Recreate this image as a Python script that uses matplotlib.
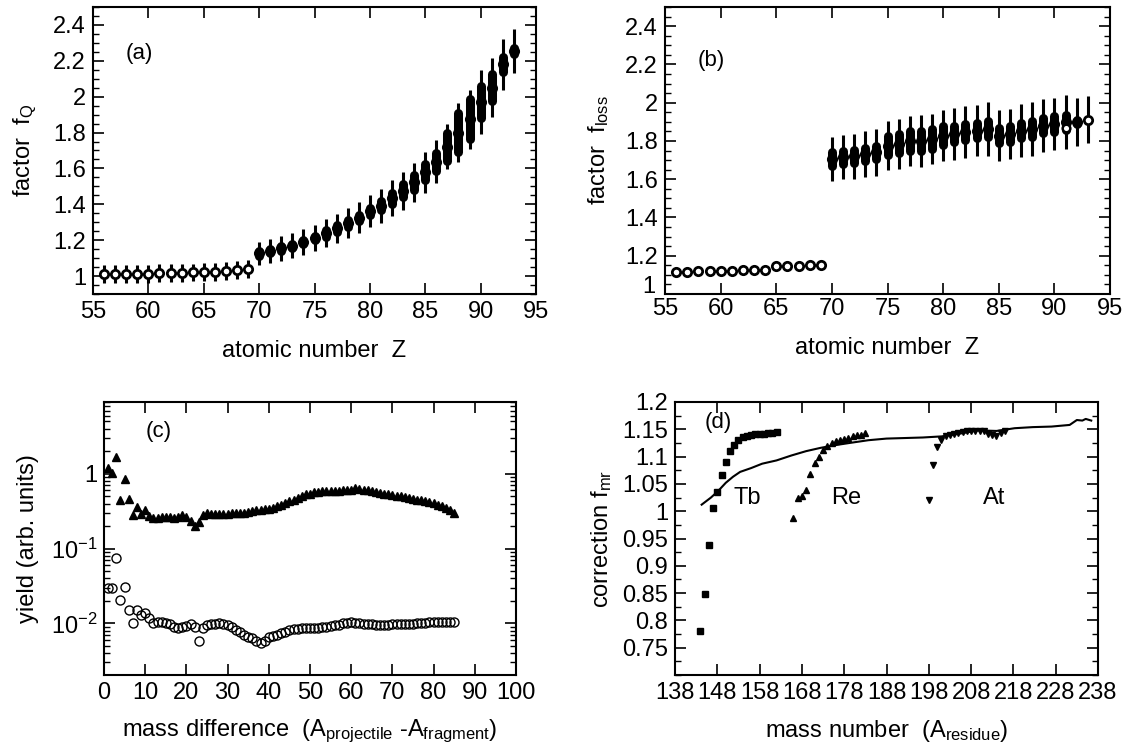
import numpy as np
import matplotlib
matplotlib.use("Agg")
import matplotlib.pyplot as plt
import matplotlib.transforms as mtransforms
from matplotlib.ticker import MultipleLocator, FixedLocator, FuncFormatter, LogLocator, NullFormatter

plt.rcParams['font.family'] = ['Liberation Sans', 'DejaVu Sans']
plt.rcParams['mathtext.fontset'] = 'custom'
plt.rcParams['mathtext.rm'] = 'Liberation Sans'
plt.rcParams['mathtext.it'] = 'Liberation Sans:italic'

# ---- panel (a): factor f_Q vs Z
z_a = np.arange(56, 94)
fq = [1.009, 1.010, 1.011, 1.012, 1.014, 1.015, 1.016, 1.018, 1.020, 1.022, 1.025, 1.028, 1.032, 1.037,
      1.126, 1.138, 1.154, 1.169, 1.190, 1.212, 1.238, 1.266, 1.294, 1.325, 1.361, 1.392, 1.433, 1.476,
      1.522, 1.578, 1.638, 1.72, 1.80, 1.875, 1.97, 2.05, 2.18, 2.255]
fq_spread = [0.005] * 14 + [0.012] * 6 + [0.018] * 5 + [0.025, 0.03, 0.035, 0.04, 0.045, 0.05,
                                                           0.08, 0.11, 0.11, 0.09, 0.075, 0.04, 0.015]
fq_err = [0.05] * 14 + [0.065, 0.066, 0.068, 0.07, 0.072, 0.075, 0.078, 0.08, 0.083, 0.086, 0.09,
                        0.095, 0.1, 0.105, 0.11, 0.115, 0.12, 0.125, 0.165, 0.165, 0.18, 0.165, 0.14, 0.125]

# ---- panel (b): factor f_loss vs Z
z_b = np.arange(56, 94)
floss = [1.115, 1.117, 1.118, 1.119, 1.120, 1.122, 1.123, 1.125, 1.126, 1.146, 1.147, 1.148, 1.150, 1.151,
         1.706, 1.715, 1.72, 1.73, 1.74, 1.776, 1.785, 1.80, 1.80, 1.81, 1.828, 1.837, 1.846, 1.854,
         1.863, 1.828, 1.837, 1.854, 1.863, 1.88, 1.889, 1.898, 1.90, 1.912]
floss_spread = [0.0] * 14 + [0.035] * 5 + [0.05] * 6 + [0.04] * 11 + [0.01, 0.0]
floss_err = [0.0] * 14 + [0.113, 0.115, 0.117, 0.12, 0.122, 0.13, 0.131, 0.131, 0.134, 0.131, 0.135,
                          0.135, 0.137, 0.135, 0.14, 0.133, 0.13, 0.14, 0.14, 0.14, 0.138, 0.14, 0.127, 0.125]
z_b_extra = [91]
floss_extra = [1.865]

# ---- panel (c): yields vs mass difference
dA = np.arange(1, 86)
yield_tri = [1.19, 1.02, 1.67, 0.449, 0.85, 0.458, 0.282, 0.358, 0.29, 0.323,
             0.274, 0.255, 0.26, 0.268, 0.268, 0.263, 0.26, 0.268, 0.277, 0.268,
             0.23, 0.20, 0.223, 0.282, 0.297, 0.291, 0.291, 0.291, 0.288, 0.291,
             0.297, 0.297, 0.303, 0.303, 0.310, 0.313, 0.323, 0.330, 0.336, 0.336,
             0.351, 0.365, 0.385, 0.405, 0.426, 0.44, 0.472, 0.508, 0.529, 0.54,
             0.562, 0.574, 0.586, 0.592, 0.592, 0.592, 0.592, 0.61, 0.61, 0.61,
             0.636, 0.623, 0.61, 0.598, 0.58, 0.568, 0.551, 0.54, 0.529, 0.518,
             0.508, 0.497, 0.482, 0.472, 0.458, 0.449, 0.44, 0.426, 0.418, 0.405,
             0.385, 0.365, 0.347, 0.323, 0.297]
yield_circ = [0.0294, 0.0294, 0.0743, 0.0205, 0.031, 0.0151, 0.0100, 0.0151, 0.0129, 0.0139,
              0.0117, 0.0102, 0.0105, 0.0103, 0.0100, 0.0098, 0.0090, 0.0088, 0.0090, 0.0092,
              0.0098, 0.0090, 0.00586, 0.0086, 0.0095, 0.0098, 0.0098, 0.0100, 0.0098, 0.0095,
              0.00903, 0.00814, 0.00773, 0.00698, 0.00663, 0.00630, 0.00586, 0.00551, 0.00586, 0.00663,
              0.00677, 0.00698, 0.00735, 0.00773, 0.00814, 0.00831, 0.00831, 0.00858, 0.00858, 0.00858,
              0.00858, 0.00875, 0.00884, 0.00903, 0.00921, 0.0094, 0.0096, 0.0100, 0.0102, 0.0103,
              0.0102, 0.0100, 0.0098, 0.0097, 0.0097, 0.0096, 0.0095, 0.0096, 0.0096, 0.0097,
              0.0097, 0.0097, 0.0097, 0.0098, 0.0098, 0.0100, 0.0100, 0.0102, 0.0103, 0.0105,
              0.0105, 0.0104, 0.0104, 0.0104, 0.0104]

# ---- panel (d): correction f_mr vs mass number
A_tb = np.arange(144, 163)
f_tb = [0.781, 0.849, 0.939, 1.006, 1.036, 1.067, 1.091, 1.110, 1.122, 1.131,
        1.136, 1.138, 1.140, 1.141, 1.142, 1.142, 1.143, 1.144, 1.145]
A_re = np.arange(166, 184)
f_re = [0.987, 1.025, 1.028, 1.039, 1.069, 1.089, 1.100, 1.113, 1.120,
        1.125, 1.128, 1.131, 1.133, 1.134, 1.137, 1.139, 1.140, 1.143]
A_at = np.arange(198, 217)
f_at = [1.020, 1.084, 1.118, 1.131, 1.137, 1.140, 1.142, 1.144, 1.145, 1.146,
        1.147, 1.147, 1.146, 1.146, 1.142, 1.140, 1.138, 1.143, 1.146]
A_line = [144.3, 146.5, 148.2, 150, 151.7, 153.4, 156, 158.6, 162, 165.5, 169, 172.4, 175.9,
          179.3, 183.7, 188, 192.3, 196.6, 201, 205.3, 209.6, 214, 218.3, 222.6, 227, 231.3,
          233, 234.3, 235.1, 236.4]
f_line = [1.012, 1.025, 1.037, 1.052, 1.063, 1.072, 1.079, 1.087, 1.093, 1.102, 1.11, 1.116, 1.121,
          1.125, 1.13, 1.133, 1.134, 1.135, 1.137, 1.142, 1.148, 1.147, 1.152, 1.154, 1.155, 1.158,
          1.167, 1.166, 1.169, 1.166]

W, H = 1127, 751
fig = plt.figure(figsize=(W / 100, H / 100), dpi=100)


def box(l, r, t, b):
    return [l / W, 1 - b / H, (r - l) / W, (b - t) / H]


ax_a = fig.add_axes(box(93, 536, 7, 294))
ax_b = fig.add_axes(box(665, 1110, 7, 294))
ax_c = fig.add_axes(box(104, 516, 402, 675))
ax_d = fig.add_axes(box(675, 1098, 402, 675))

FS = 17
gfmt = FuncFormatter(lambda v, p: '%g' % round(v, 3))


def style(ax):
    for s in ax.spines.values():
        s.set_linewidth(1.5)
    ax.tick_params(which='both', direction='in', top=True, right=True, labelsize=FS, pad=5)
    ax.tick_params(which='major', length=8, width=1.2)
    ax.tick_params(which='minor', length=4, width=1.0)


def draw_factor(ax, z, c, spread, err, open_mask):
    z = np.asarray(z)
    c = np.asarray(c)
    spread = np.asarray(spread)
    err = np.asarray(err)
    has_err = err > 0
    ax.vlines(z[has_err], (c - err)[has_err], (c + err)[has_err], color='k', lw=2.2, zorder=2)
    fill = ~open_mask
    lc = ax.vlines(z[fill], (c - spread)[fill], (c + spread)[fill], color='k', lw=6.5, zorder=3)
    lc.set_capstyle('round')
    ax.plot(z[fill], c[fill], 'o', ms=7, color='k', zorder=4)
    ax.plot(z[open_mask], c[open_mask], 'o', ms=6, mfc='white', mec='k', mew=2.0, ls='none', zorder=5)


# (a)
draw_factor(ax_a, z_a, fq, fq_spread, fq_err, z_a < 70)
ax_a.set_xlim(55, 95)
ax_a.set_ylim(0.9, 2.5)
ax_a.xaxis.set_major_locator(MultipleLocator(5))
ax_a.yaxis.set_major_locator(FixedLocator([1, 1.2, 1.4, 1.6, 1.8, 2, 2.2, 2.4]))
ax_a.yaxis.set_minor_locator(MultipleLocator(0.05))
ax_a.yaxis.set_major_formatter(gfmt)
ax_a.set_xlabel('atomic number  Z', fontsize=FS, labelpad=12)
ax_a.set_ylabel(r'factor  f$_\mathrm{Q}$', fontsize=FS, labelpad=10)
ax_a.text(59.2, 2.24, '(a)', fontsize=FS - 1, ha='center', va='center')
style(ax_a)

# (b)
zb = np.asarray(z_b)
draw_factor(ax_b, z_b, floss, floss_spread, floss_err, (zb < 70) | (zb == 93))
ax_b.plot(z_b_extra, floss_extra, 'o', ms=5.5, mfc='white', mec='k', mew=1.8, zorder=6)
ax_b.set_xlim(55, 95)
ax_b.set_ylim(1.0, 2.5)
ax_b.xaxis.set_major_locator(MultipleLocator(5))
ax_b.yaxis.set_major_locator(FixedLocator([1, 1.2, 1.4, 1.6, 1.8, 2, 2.2, 2.4]))
ax_b.yaxis.set_minor_locator(MultipleLocator(0.05))
ax_b.yaxis.set_major_formatter(gfmt)
ax_b.set_xlabel('atomic number  Z', fontsize=FS, labelpad=12)
ax_b.set_ylabel(r'factor  f$_\mathrm{loss}$', fontsize=FS, labelpad=10)
ax_b.text(59.2, 2.22, '(b)', fontsize=FS - 1, ha='center', va='center')
style(ax_b)
ax_b.tick_params(axis='x', pad=3)
# the corner "1" sits a little above the "55", as in the original
shift = mtransforms.ScaledTranslation(-2 / 72, 7 / 72, fig.dpi_scale_trans)
first = ax_b.yaxis.get_major_ticks()[0]
first.label1.set_transform(first.label1.get_transform() + shift)

# (c)
ax_c.plot(dA, yield_tri, '^', ms=5.5, color='k', ls='none')
ax_c.plot(dA, yield_circ, 'o', ms=6.5, mfc='none', mec='k', mew=1.0, ls='none')
ax_c.set_yscale('log')
ax_c.set_xlim(0, 100)
ax_c.set_ylim(0.00204, 9.1)
ax_c.xaxis.set_major_locator(MultipleLocator(10))
ax_c.yaxis.set_major_locator(FixedLocator([0.01, 0.1, 1]))
ax_c.yaxis.set_major_formatter(FuncFormatter(
    lambda v, p: {0.01: r'10$^{-2}$', 0.1: r'10$^{-1}$', 1: '1'}.get(round(v, 3), '')))
ax_c.yaxis.set_minor_locator(LogLocator(base=10, subs=np.arange(2, 10)))
ax_c.yaxis.set_minor_formatter(NullFormatter())
ax_c.set_xlabel(r'mass difference  (A$_\mathrm{projectile}$ -A$_\mathrm{fragment}$)', fontsize=FS, labelpad=10)
ax_c.set_ylabel('yield (arb. units)', fontsize=FS, labelpad=8)
ax_c.text(13.2, 3.7, '(c)', fontsize=FS - 1, ha='center', va='center')
style(ax_c)

# (d)
ax_d.plot(A_line, f_line, '-', color='k', lw=1.5)
ax_d.plot(A_tb, f_tb, 's', ms=5, color='k', ls='none')
ax_d.plot(A_re, f_re, '^', ms=4.5, color='k', ls='none')
ax_d.plot(A_at, f_at, 'v', ms=4.5, color='k', ls='none')
ax_d.set_xlim(138, 238)
ax_d.set_ylim(0.7, 1.2)
ax_d.xaxis.set_major_locator(FixedLocator(np.arange(138, 239, 10)))
ax_d.yaxis.set_major_locator(FixedLocator(np.arange(0.75, 1.201, 0.05)))
ax_d.yaxis.set_minor_locator(MultipleLocator(0.025))
ax_d.yaxis.set_major_formatter(gfmt)
ax_d.set_xlabel(r'mass number  (A$_\mathrm{residue}$)', fontsize=FS, labelpad=10)
ax_d.set_ylabel(r'correction f$_\mathrm{mr}$', fontsize=FS, labelpad=6)
ax_d.text(148.2, 1.162, '(d)', fontsize=FS - 1, ha='center', va='center')
ax_d.text(155.1, 1.025, 'Tb', fontsize=FS, ha='center', va='center')
ax_d.text(178.5, 1.025, 'Re', fontsize=FS, ha='center', va='center')
ax_d.text(213.5, 1.025, 'At', fontsize=FS, ha='center', va='center')
style(ax_d)

fig.savefig('out.png', dpi=100)
